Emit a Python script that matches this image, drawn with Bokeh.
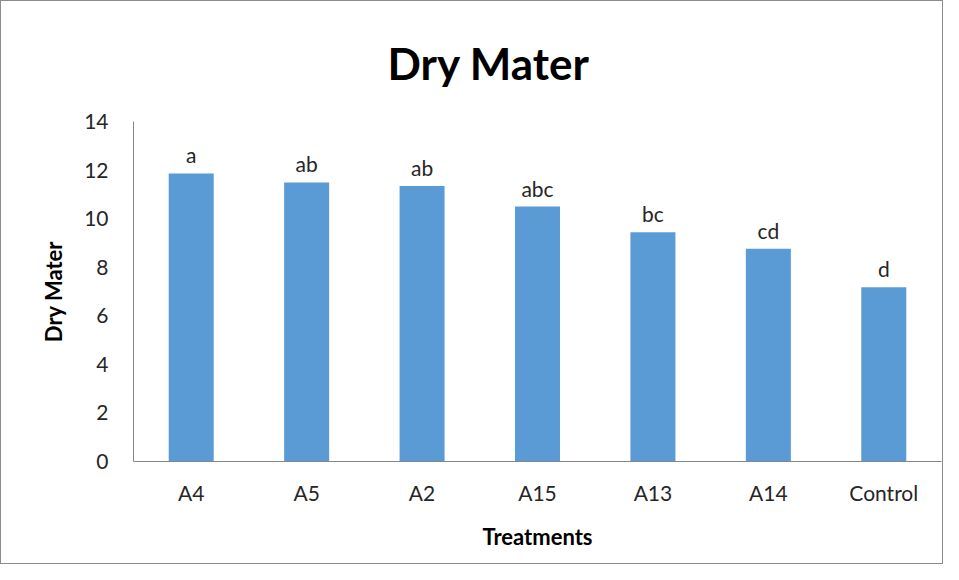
from bokeh.plotting import figure
from bokeh.models import ColumnDataSource, LabelSet, FactorRange, Range1d, FixedTicker
from bokeh.core.properties import value
from bokeh.embed import file_html
from bokeh.resources import INLINE

treatments = ["A4", "A5", "A2", "A15", "A13", "A14", "Control"]
dry_matter = [11.86, 11.49, 11.34, 10.50, 9.44, 8.76, 7.17]
letters = ["a", "ab", "ab", "abc", "bc", "cd", "d"]
y_ticks = [0, 2, 4, 6, 8, 10, 12, 14]

source = ColumnDataSource(dict(t=treatments, v=dry_matter, lab=letters))

FONT = "Lato"
p = figure(
    x_range=FactorRange(*treatments, range_padding=0),
    y_range=Range1d(0, 14),
    width=943, height=564,
    output_backend="svg", toolbar_location=None,
    min_border_left=132, min_border_right=3, min_border_top=119, min_border_bottom=104,
    title="Dry Mater",
    styles={"border": "1px solid #8c8c8c"},
)
p.title.text_font = FONT
p.title.text_font_style = "bold"
p.title.text_font_size = "44px"
p.title.align = "left"
p.title.offset = 254
p.title.standoff = 66
p.title.text_color = "black"

p.vbar(x="t", top="v", width=0.39, source=source, color="#5B9BD5", line_color=None)

labels = LabelSet(x="t", y="v", text="lab", source=source, text_align="center",
                  text_baseline="bottom", y_offset=6, text_font=value(FONT),
                  text_font_size=value("21px"), text_color="#262626")
p.add_layout(labels)

p.outline_line_color = None
p.xgrid.grid_line_color = None
p.ygrid.grid_line_color = None

p.yaxis.ticker = FixedTicker(ticks=y_ticks)
for ax in (p.xaxis[0], p.yaxis[0]):
    ax.axis_line_color = "#868686"
    ax.major_tick_line_color = None
    ax.minor_tick_line_color = None
    ax.major_label_text_font = FONT
    ax.major_label_text_font_size = "21px"
    ax.major_label_text_color = "#262626"
    ax.axis_label_text_font = FONT
    ax.axis_label_text_font_style = "bold"
    ax.axis_label_text_font_size = "22px"
    ax.axis_label_text_color = "black"

p.xaxis.axis_label = "Treatments"
p.yaxis.axis_label = "Dry Mater"
p.xaxis.major_label_standoff = 12
p.yaxis.major_label_standoff = 19
p.xaxis.axis_label_standoff = 15
p.yaxis.axis_label_standoff = 14

open("out.html", "w").write(file_html(p, INLINE))
